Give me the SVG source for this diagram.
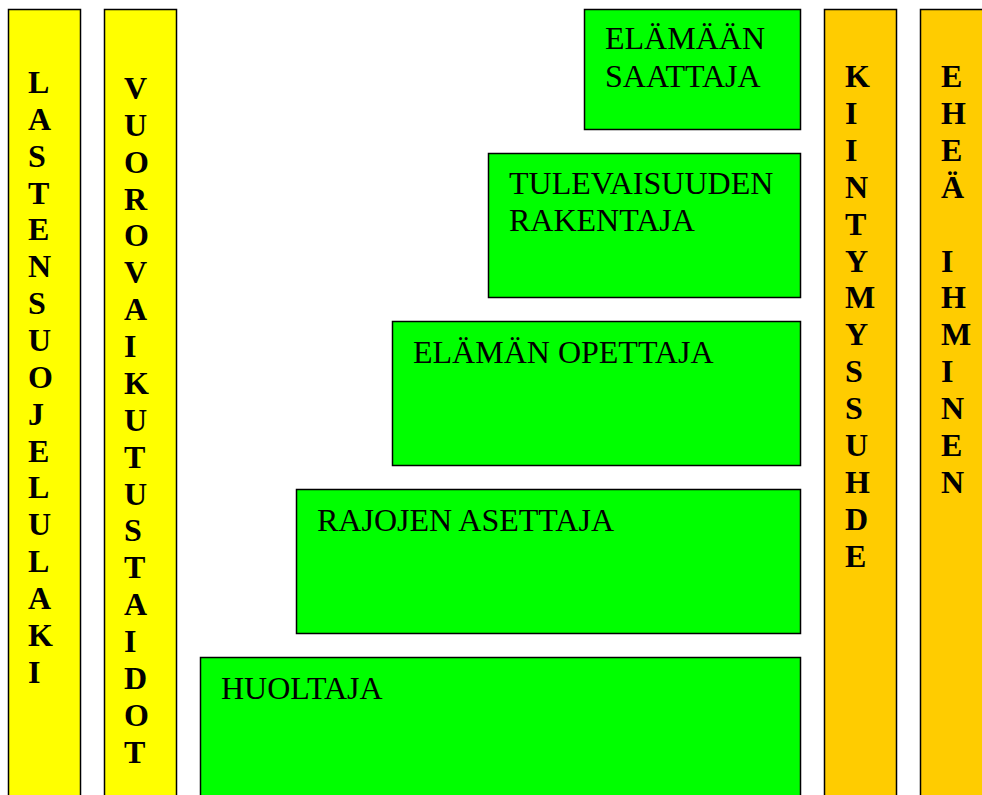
<svg xmlns="http://www.w3.org/2000/svg" width="982" height="795" viewBox="0 0 982 795">
<style>
.col{stroke:#000;stroke-width:1.5}
.y{fill:#ffff00}
.o{fill:#ffcc00}
.box{fill:#00ff00;stroke:#000;stroke-width:1.5}
.vt{font-family:"Liberation Serif","Times New Roman",serif;font-weight:bold;font-size:32px;fill:#000}
.bt{font-family:"Liberation Serif","Times New Roman",serif;font-size:32px;fill:#000}
</style>
<rect width="982" height="795" fill="#fff"/>
<g id="lastensuojelulaki">
<rect class="col y" x="8.5" y="9.5" width="72" height="800"/>
<text class="vt" x="28" y="93"><tspan x="28">L</tspan><tspan x="28" dy="36.85">A</tspan><tspan x="28" dy="36.85">S</tspan><tspan x="28" dy="36.85">T</tspan><tspan x="28" dy="36.85">E</tspan><tspan x="28" dy="36.85">N</tspan><tspan x="28" dy="36.85">S</tspan><tspan x="28" dy="36.85">U</tspan><tspan x="28" dy="36.85">O</tspan><tspan x="28" dy="36.85">J</tspan><tspan x="28" dy="36.85">E</tspan><tspan x="28" dy="36.85">L</tspan><tspan x="28" dy="36.85">U</tspan><tspan x="28" dy="36.85">L</tspan><tspan x="28" dy="36.85">A</tspan><tspan x="28" dy="36.85">K</tspan><tspan x="28" dy="36.85">I</tspan></text>
</g>
<g id="vuorovaikutustaidot">
<rect class="col y" x="104.5" y="9.5" width="72" height="800"/>
<text class="vt" x="124" y="99"><tspan x="124">V</tspan><tspan x="124" dy="36.87">U</tspan><tspan x="124" dy="36.87">O</tspan><tspan x="124" dy="36.87">R</tspan><tspan x="124" dy="36.87">O</tspan><tspan x="124" dy="36.87">V</tspan><tspan x="124" dy="36.87">A</tspan><tspan x="124" dy="36.87">I</tspan><tspan x="124" dy="36.87">K</tspan><tspan x="124" dy="36.87">U</tspan><tspan x="124" dy="36.87">T</tspan><tspan x="124" dy="36.87">U</tspan><tspan x="124" dy="36.87">S</tspan><tspan x="124" dy="36.87">T</tspan><tspan x="124" dy="36.87">A</tspan><tspan x="124" dy="36.87">I</tspan><tspan x="124" dy="36.87">D</tspan><tspan x="124" dy="36.87">O</tspan><tspan x="124" dy="36.87">T</tspan></text>
</g>
<g id="elamaan-saattaja">
<rect class="box" x="584.5" y="9.5" width="216" height="120"/>
<text class="bt" x="605" y="49"><tspan x="605">ELÄMÄÄN</tspan><tspan x="605" dy="38">SAATTAJA</tspan></text>
</g>
<g id="tulevaisuuden-rakentaja">
<rect class="box" x="488.5" y="153.5" width="312" height="144"/>
<text class="bt" x="509" y="193.5"><tspan x="509">TULEVAISUUDEN</tspan><tspan x="509" dy="37.5">RAKENTAJA</tspan></text>
</g>
<g id="elaman-opettaja">
<rect class="box" x="392.5" y="321.5" width="408" height="144"/>
<text class="bt" x="413" y="362.5">ELÄMÄN OPETTAJA</text>
</g>
<g id="rajojen-asettaja">
<rect class="box" x="296.5" y="489.5" width="504" height="144"/>
<text class="bt" x="317" y="530.5">RAJOJEN ASETTAJA</text>
</g>
<g id="huoltaja">
<rect class="box" x="200.5" y="657.5" width="600" height="160"/>
<text class="bt" x="221" y="698.5">HUOLTAJA</text>
</g>
<g id="kiintymyssuhde">
<rect class="col o" x="824.5" y="9.5" width="72" height="800"/>
<text class="vt" x="845" y="87"><tspan x="845">K</tspan><tspan x="845" dy="36.9">I</tspan><tspan x="845" dy="36.9">I</tspan><tspan x="845" dy="36.9">N</tspan><tspan x="845" dy="36.9">T</tspan><tspan x="845" dy="36.9">Y</tspan><tspan x="845" dy="36.9">M</tspan><tspan x="845" dy="36.9">Y</tspan><tspan x="845" dy="36.9">S</tspan><tspan x="845" dy="36.9">S</tspan><tspan x="845" dy="36.9">U</tspan><tspan x="845" dy="36.9">H</tspan><tspan x="845" dy="36.9">D</tspan><tspan x="845" dy="36.9">E</tspan></text>
</g>
<g id="ehea-ihminen">
<rect class="col o" x="920.5" y="9.5" width="80" height="800"/>
<text class="vt" x="941" y="87"><tspan x="941">E</tspan><tspan x="941" dy="36.9">H</tspan><tspan x="941" dy="36.9">E</tspan><tspan x="941" dy="36.9">Ä</tspan><tspan x="941" dy="73.8">I</tspan><tspan x="941" dy="36.9">H</tspan><tspan x="941" dy="36.9">M</tspan><tspan x="941" dy="36.9">I</tspan><tspan x="941" dy="36.9">N</tspan><tspan x="941" dy="36.9">E</tspan><tspan x="941" dy="36.9">N</tspan></text>
</g>
<g id="connectors"></g>
</svg>
